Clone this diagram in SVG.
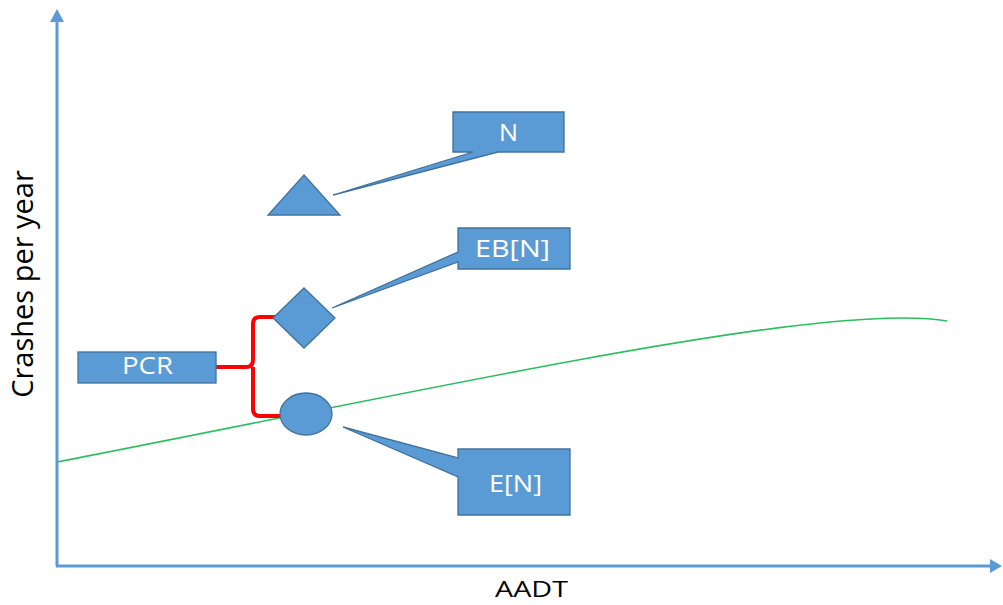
<svg xmlns="http://www.w3.org/2000/svg" width="1003" height="605" viewBox="0 0 1003 605">
<style>
.shape{fill:#5B9BD5;stroke:#41719C;stroke-width:1.3}
.lbl{font-family:"Open Sans","Liberation Sans",sans-serif;font-size:23px;fill:#FFFFFF;text-anchor:middle}
.axlbl{font-family:"Open Sans","Liberation Sans",sans-serif;font-size:22px;fill:#000000;text-anchor:middle}
.axis{stroke:#5B9BD5;stroke-width:3;fill:none}
</style>
<rect width="1003" height="605" fill="#FFFFFF"/>
<g id="axes">
<line class="axis" x1="57" y1="566" x2="57" y2="20"/>
<polygon points="57,9 50,22 64,22" fill="#5B9BD5"/>
<line class="axis" x1="56" y1="566" x2="992" y2="566"/>
<polygon points="1002,566 990,559 990,573" fill="#5B9BD5"/>
<text class="axlbl" style="font-size:29px" transform="translate(33,284) rotate(-90)">Crashes per year</text>
<text class="axlbl" x="531.5" y="597" textLength="73" lengthAdjust="spacingAndGlyphs">AADT</text>
</g>
<g id="connectors">
<path d="M57,462 C350,405 650,340 820,323 C880,317 920,316 947,321" fill="none" stroke="#2DBE60" stroke-width="1.6"/>
<path d="M216,367 L246,367 Q253,367 253,360 L253,324 Q253,317 260,317 L276,317 M253,367 L253,409 Q253,416 260,416 L282,416" fill="none" stroke="#FF0000" stroke-width="4"/>
</g>
<g id="triangle">
<polygon class="shape" points="304,175 340,215 268,215"/>
</g>
<g id="diamond">
<polygon class="shape" points="304,288 335,318 304,348 273,318"/>
</g>
<g id="ellipse">
<ellipse class="shape" cx="306" cy="414" rx="26" ry="21"/>
</g>
<g id="callout-N">
<path class="shape" d="M453,112 L564,112 L564,152 L498,152 L333,195 L473,152 L453,152 Z"/>
<text class="lbl" x="508.5" y="141" textLength="19" lengthAdjust="spacingAndGlyphs">N</text>
</g>
<g id="callout-EBN">
<path class="shape" d="M458,228 L570,228 L570,269 L458,269 L458,262 L332,308 L458,252 Z"/>
<text class="lbl" x="512.5" y="257" textLength="75" lengthAdjust="spacingAndGlyphs">EB[N]</text>
</g>
<g id="callout-EN">
<path class="shape" d="M458,449 L570,449 L570,515 L458,515 L458,477 L343,427 L458,458 Z"/>
<text class="lbl" x="515.5" y="492" textLength="53" lengthAdjust="spacingAndGlyphs">E[N]</text>
</g>
<g id="PCR">
<rect class="shape" x="78" y="352" width="138" height="31"/>
<text class="lbl" x="147.5" y="374" textLength="51" lengthAdjust="spacingAndGlyphs">PCR</text>
</g>
</svg>
